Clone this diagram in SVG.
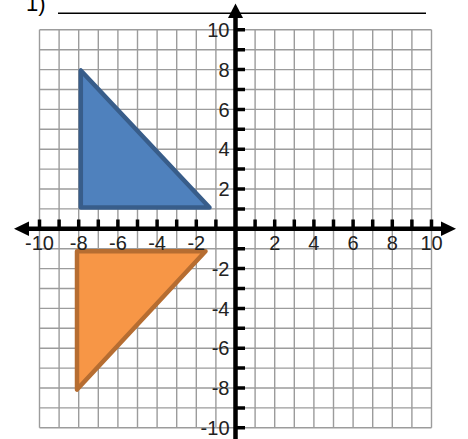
<svg xmlns="http://www.w3.org/2000/svg" width="468" height="439" viewBox="0 0 468 439">
<style>
.grid{stroke:#9c9c9c;stroke-width:1.4;fill:none}
.axis{stroke:#000;stroke-width:4.5;fill:none}
.tick{stroke:#000;stroke-width:3.5;fill:none}
.lbl{font-family:"Liberation Sans",Arial,sans-serif;font-size:20px;fill:#222}
.xl{text-anchor:middle}
.yl{text-anchor:end}
</style>
<rect width="468" height="439" fill="#fff"/>
<g id="title">
<text x="26" y="11" font-family="Liberation Sans,Arial,sans-serif" font-size="22" fill="#000">1)</text>
<line x1="58" y1="13.3" x2="426" y2="13.3" stroke="#000" stroke-width="1.6"/>
</g>
<g id="grid">
<path class="grid" d="M39.5 29.8V427.8M59.1 29.8V427.8M78.7 29.8V427.8M98.3 29.8V427.8M117.9 29.8V427.8M137.5 29.8V427.8M157.1 29.8V427.8M176.7 29.8V427.8M196.3 29.8V427.8M215.9 29.8V427.8M255.1 29.8V427.8M274.7 29.8V427.8M294.3 29.8V427.8M313.9 29.8V427.8M333.5 29.8V427.8M353.1 29.8V427.8M372.7 29.8V427.8M392.3 29.8V427.8M411.9 29.8V427.8M431.5 29.8V427.8
M39.5 29.8H431.5M39.5 49.7H431.5M39.5 69.6H431.5M39.5 89.5H431.5M39.5 109.4H431.5M39.5 129.3H431.5M39.5 149.2H431.5M39.5 169.1H431.5M39.5 189H431.5M39.5 208.9H431.5M39.5 248.7H431.5M39.5 268.6H431.5M39.5 288.5H431.5M39.5 308.4H431.5M39.5 328.3H431.5M39.5 348.2H431.5M39.5 368.1H431.5M39.5 388H431.5M39.5 407.9H431.5M39.5 427.8H431.5"/>
</g>
<g id="triangle-blue">
<polygon points="80.8,70.5 80.8,207.5 209.5,207.5" fill="#4F81BD" stroke="#385D8A" stroke-width="4.5" stroke-linejoin="round"/>
</g>
<g id="triangle-orange">
<polygon points="77,251.2 205.5,251.2 77,389.5" fill="#F79646" stroke="#B66D31" stroke-width="4.5" stroke-linejoin="round"/>
</g>
<g id="axes">
<path class="axis" d="M24 228.8H446M235.5 14V439"/>
<polygon points="14,228.8 29,221.5 29,236" fill="#000"/>
<polygon points="456,228.8 441,221.5 441,236" fill="#000"/>
<polygon points="235.5,3.5 228,18 243,18" fill="#000"/>
<path class="tick" d="M39.5 219.5V228.8M59.1 219.5V228.8M78.7 219.5V228.8M98.3 219.5V228.8M117.9 219.5V228.8M137.5 219.5V228.8M157.1 219.5V228.8M176.7 219.5V228.8M196.3 219.5V228.8M215.9 219.5V228.8M255.1 219.5V228.8M274.7 219.5V228.8M294.3 219.5V228.8M313.9 219.5V228.8M333.5 219.5V228.8M353.1 219.5V228.8M372.7 219.5V228.8M392.3 219.5V228.8M411.9 219.5V228.8M431.5 219.5V228.8
M235.5 29.8H245M235.5 49.7H245M235.5 69.6H245M235.5 89.5H245M235.5 109.4H245M235.5 129.3H245M235.5 149.2H245M235.5 169.1H245M235.5 189H245M235.5 208.9H245M235.5 248.7H245M235.5 268.6H245M235.5 288.5H245M235.5 308.4H245M235.5 328.3H245M235.5 348.2H245M235.5 368.1H245M235.5 388H245M235.5 407.9H245M235.5 427.8H245"/>
</g>
<g id="x-labels" class="lbl xl">
<text x="39.5" y="250">-10</text>
<text x="78.7" y="250">-8</text>
<text x="117.9" y="250">-6</text>
<text x="157.1" y="250">-4</text>
<text x="196.3" y="250">-2</text>
<text x="274.7" y="250">2</text>
<text x="313.9" y="250">4</text>
<text x="353.1" y="250">6</text>
<text x="392.3" y="250">8</text>
<text x="431.5" y="250">10</text>
</g>
<g id="y-labels" class="lbl yl">
<text x="229.5" y="37">10</text>
<text x="229.5" y="76.8">8</text>
<text x="229.5" y="116.6">6</text>
<text x="229.5" y="156.4">4</text>
<text x="229.5" y="196.2">2</text>
<text x="229.5" y="275.8">-2</text>
<text x="229.5" y="315.6">-4</text>
<text x="229.5" y="355.4">-6</text>
<text x="229.5" y="395.2">-8</text>
<text x="229.5" y="435">-10</text>
</g>
</svg>
